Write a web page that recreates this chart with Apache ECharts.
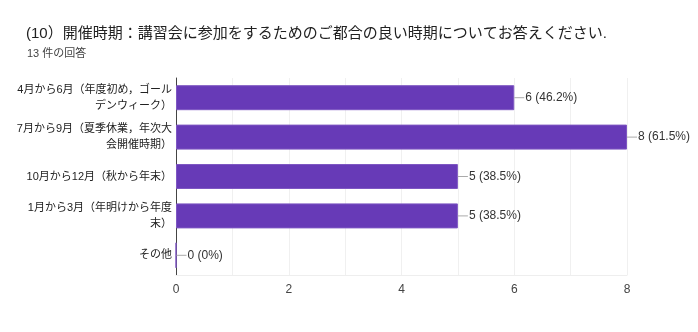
<!DOCTYPE html>
<html><head><meta charset="utf-8">
<script src="https://cdn.jsdelivr.net/npm/echarts@6/dist/echarts.min.js"></script>
<style>html,body{margin:0;padding:0;background:#fff}#c{width:698px;height:332px}</style>
</head><body><div id="c"></div>
<script>
const categories = [
  "4月から6月（年度初め，ゴール\nデンウィーク）",
  "7月から9月（夏季休業，年次大\n会開催時期）",
  "10月から12月（秋から年末）",
  "1月から3月（年明けから年度\n末）",
  "その他"
];
const counts = [6, 8, 5, 5, 0];
const percents = ["46.2%", "61.5%", "38.5%", "38.5%", "0%"];
const xTicks = [0, 2, 4, 6, 8];
const titleText = "(10）開催時期：講習会に参加をするためのご都合の良い時期についてお答えください.";
const subText = "13 件の回答";

const font = "'Liberation Sans', Arial, 'Noto Sans CJK JP', sans-serif";
const chart = echarts.init(document.getElementById('c'));
chart.setOption({
  animation: false,
  title: [
    {text: titleText, left: 21, top: 21, textStyle: {fontFamily: font, fontSize: 15, fontWeight: 'normal', color: '#212121'}},
    {text: subText, left: 22, top: 43, textStyle: {fontFamily: font, fontSize: 11, fontWeight: 'normal', color: '#444'}}
  ],
  grid: {left: 176, right: 71, top: 78, bottom: 57, outerBoundsMode: 'none'},
  xAxis: {
    type: 'value', min: 0, max: 8, interval: 1,
    axisLine: {show: true, lineStyle: {color: '#eee'}},
    axisTick: {show: false},
    splitLine: {show: true, lineStyle: {color: '#f0f0f0'}},
    axisLabel: {
      fontFamily: font, fontSize: 12, color: '#444', margin: 9,
      formatter: v => xTicks.includes(v) ? String(v) : ''
    }
  },
  yAxis: {
    type: 'category', data: categories, inverse: true,
    axisLine: {show: true, lineStyle: {color: '#444', width: 1}},
    axisTick: {show: false},
    axisLabel: {fontFamily: font, fontSize: 11, color: '#222', margin: 4, lineHeight: 16, align: 'right'}
  },
  series: [{
    type: 'bar', data: counts, barWidth: 25,
    itemStyle: {color: '#673ab7', borderColor: '#7e57c2', borderWidth: 1},
    label: {
      show: true, position: 'right', distance: 0,
      formatter: p => '{l|}{t|' + counts[p.dataIndex] + ' (' + percents[p.dataIndex] + ')}',
      rich: {
        l: {width: 10, height: 1, backgroundColor: '#aaa', verticalAlign: 'middle'},
        t: {fontFamily: font, fontSize: 12, color: '#333', padding: [0, 0, 0, 1]}
      }
    }
  }]
});
</script></body></html>
